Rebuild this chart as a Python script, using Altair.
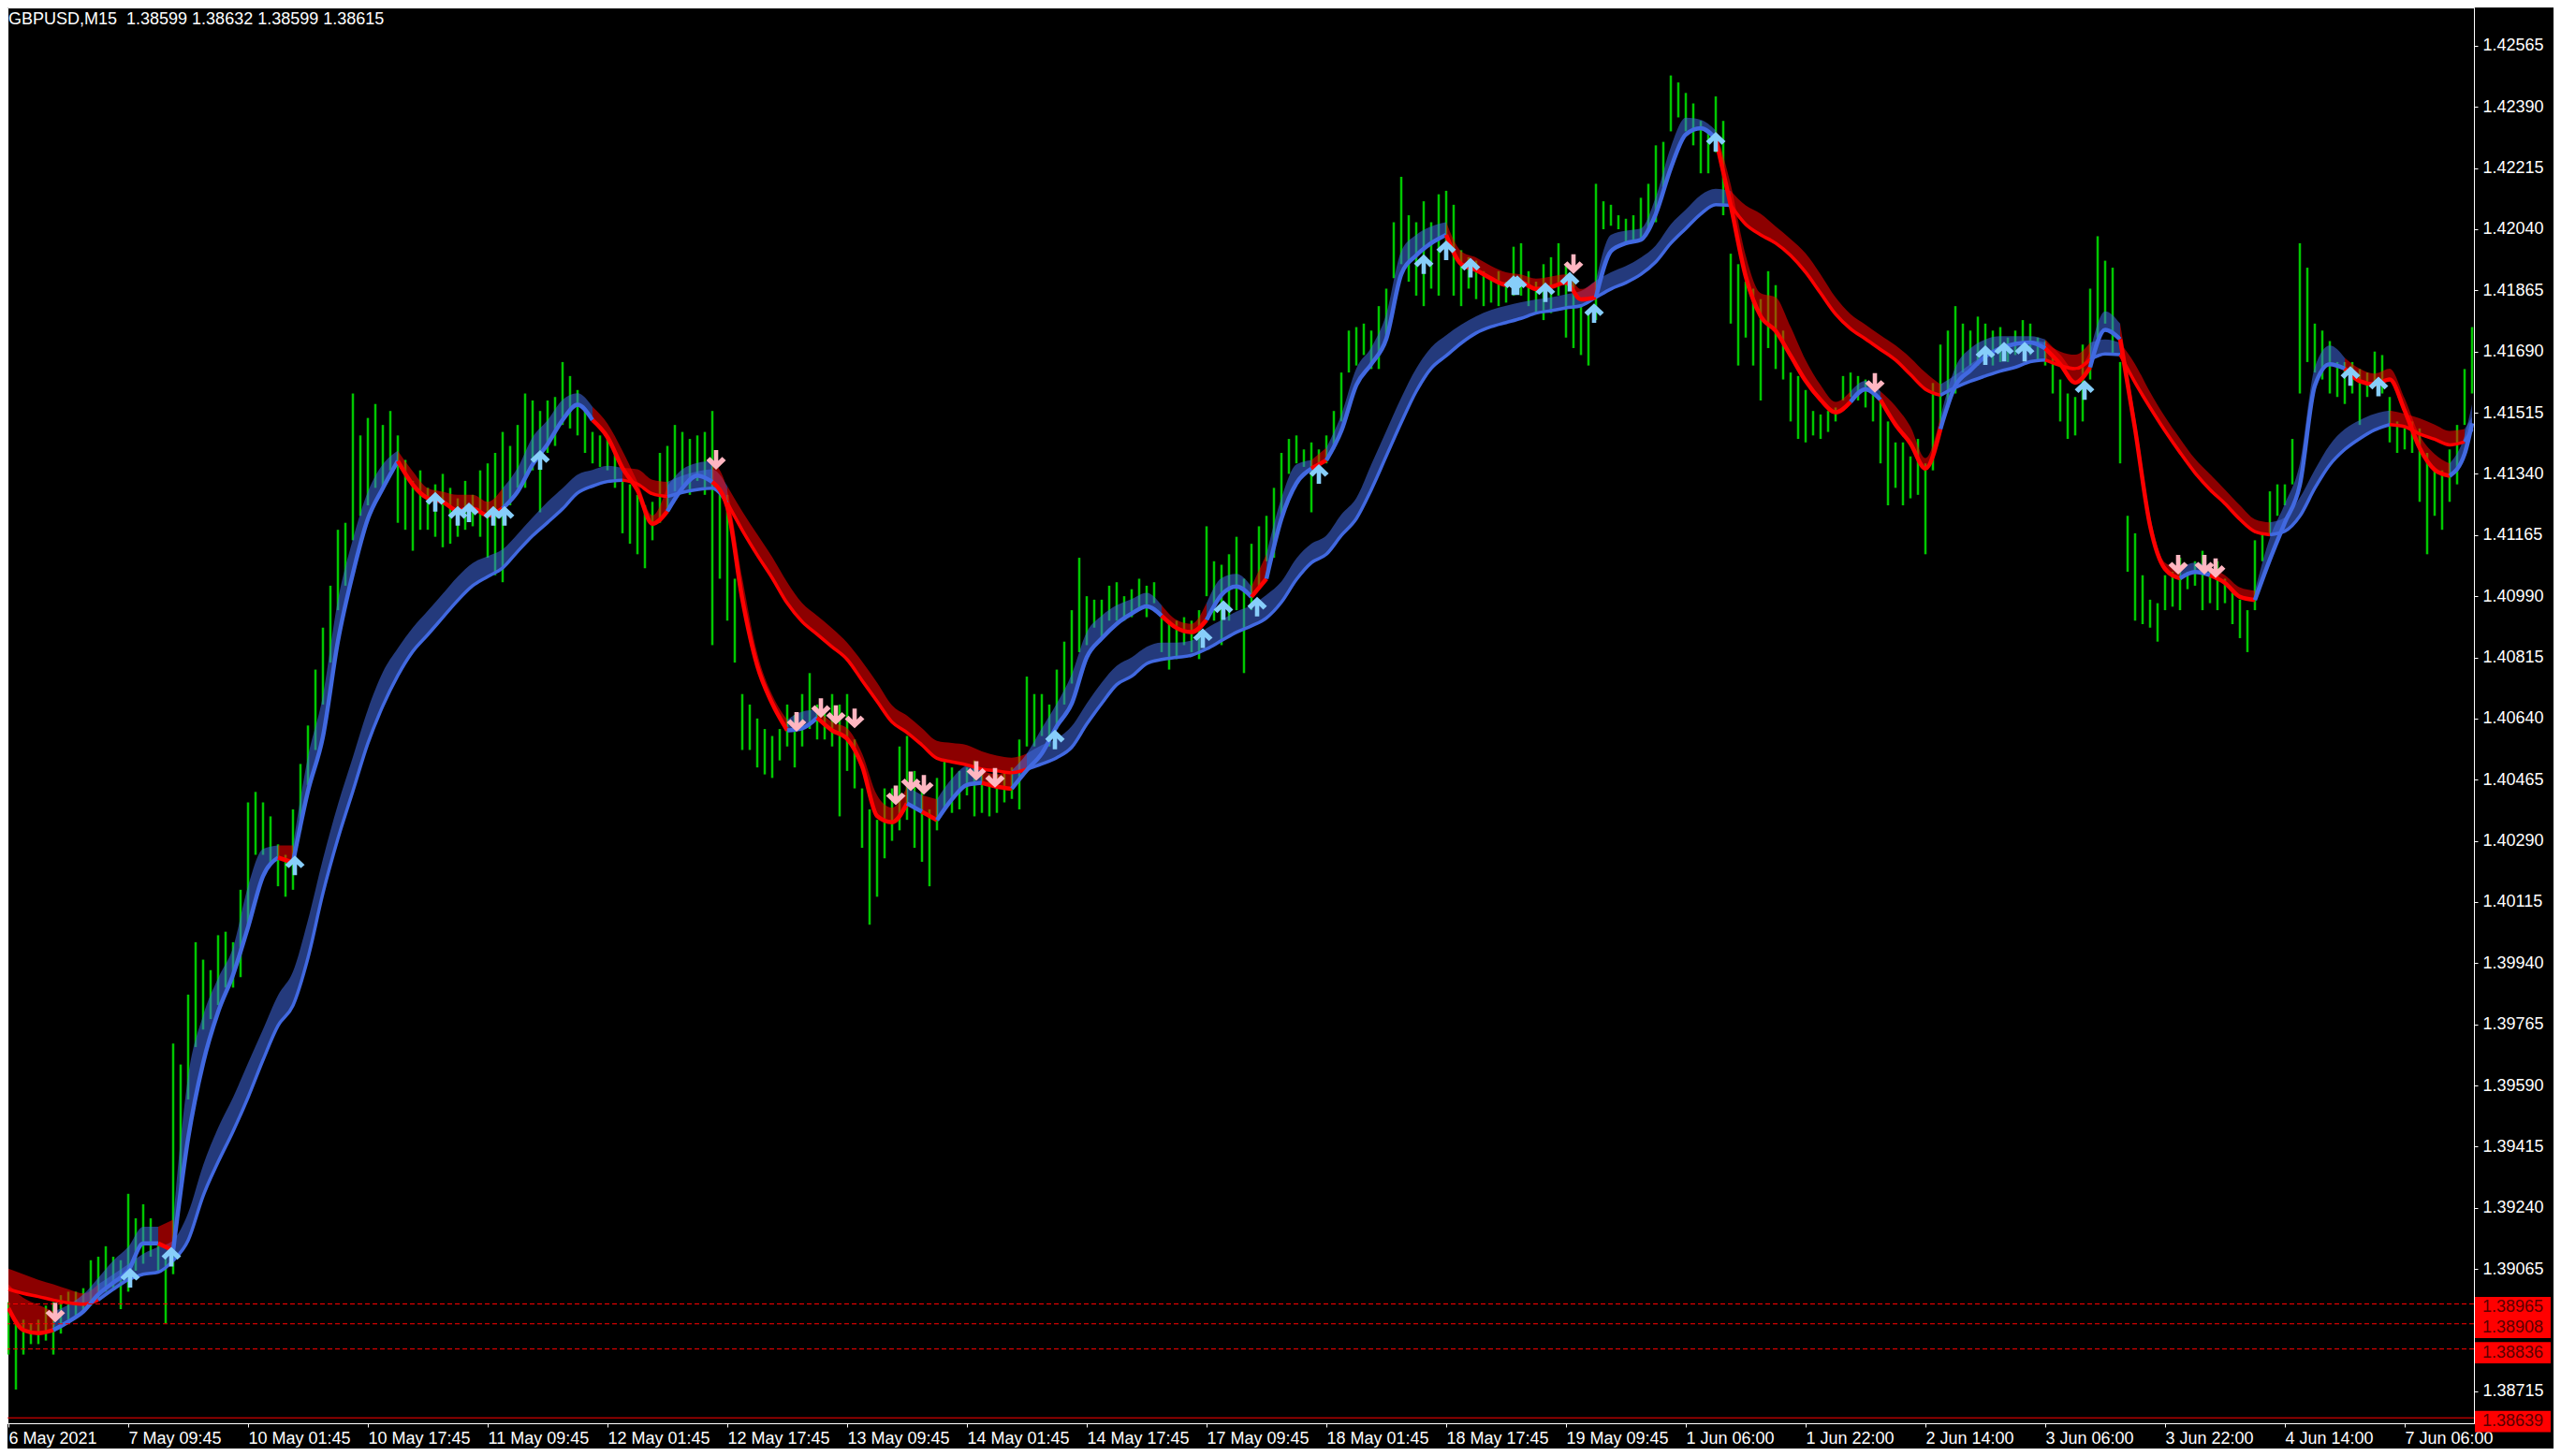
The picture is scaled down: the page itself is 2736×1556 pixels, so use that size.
import json
import altair as alt
import pandas as pd

# ---------------- data ----------------
TITLE = "GBPUSD,M15\u00a0\u00a01.38599 1.38632 1.38599 1.38615"
BASE = 1.38      # values below are pips above 1.38000
PIP = 0.0001

# price bars (high / low), sampled every 4 M15 bars
bar_idx = list(range(0, 1317, 4))
bar_hi = [
    97, 92, 92, 91, 92, 96, 97, 99, 100, 100,
    101, 109, 110, 113, 110, 109, 128, 121, 125, 121,
    114, 110, 171, 165, 185, 200, 195, 192, 202, 203,
    200, 215, 240, 243, 240, 236, 228, 225, 238, 251,
    262, 278, 290, 302, 318, 320, 357, 345, 350, 354,
    348, 352, 345, 338, 332, 335, 330, 331, 334, 330,
    327, 332, 328, 335, 337, 340, 346, 342, 348, 357,
    355, 352, 355, 356, 366, 362, 358, 352, 346, 345,
    344, 340, 332, 331, 328, 325, 326, 340, 342, 348,
    346, 344, 345, 346, 352, 330, 328, 304, 271, 268,
    264, 261, 259, 261, 268, 265, 271, 277, 268, 266,
    271, 268, 271, 258, 244, 238, 235, 244, 244, 256,
    259, 249, 244, 238, 247, 252, 250, 249, 250, 252,
    249, 248, 248, 249, 250, 258, 276, 271, 271, 268,
    278, 286, 295, 310, 299, 298, 298, 302, 303, 299,
    301, 304, 302, 303, 293, 292, 292, 293, 292, 295,
    319, 309, 308, 311, 316, 304, 314, 319, 322, 330,
    340, 344, 345, 341, 343, 341, 345, 352, 363, 375,
    376, 377, 375, 382, 387, 406, 419, 408, 406, 412,
    406, 414, 415, 411, 398, 396, 395, 392, 390, 392,
    389, 399, 400, 392, 389, 394, 396, 400, 394, 389,
    382, 380, 417, 412, 411, 408, 407, 408, 413, 417,
    428, 429, 448, 446, 443, 440, 435, 432, 442, 435,
    397, 394, 389, 387, 384, 392, 388, 375, 363, 362,
    358, 352, 351, 352, 353, 362, 363, 362, 361, 358,
    355, 349, 343, 343, 339, 344, 337, 360, 371, 375,
    382, 377, 375, 379, 377, 375, 376, 373, 375, 378,
    377, 373, 372, 368, 361, 357, 356, 371, 387, 402,
    395, 393, 366, 322, 317, 305, 298, 297, 305, 306,
    310, 306, 309, 312, 307, 309, 304, 300, 298, 295,
    315, 317, 329, 331, 331, 344, 400, 393, 377, 375,
    372, 366, 366, 366, 364, 363, 369, 368, 356, 349,
    347, 349, 347, 340, 335, 335, 341, 348, 364, 376,
]
bar_lo = [
    82, 72, 82, 85, 85, 86, 82, 88, 92, 93,
    94, 96, 98, 100, 101, 95, 100, 106, 108, 110,
    106, 91, 105, 130, 155, 170, 175, 178, 182, 187,
    187, 190, 205, 225, 225, 222, 216, 213, 215, 232,
    245, 255, 268, 280, 295, 302, 315, 322, 325, 330,
    330, 335, 320, 318, 312, 318, 318, 316, 313, 314,
    316, 318, 319, 316, 310, 305, 303, 325, 330, 330,
    335, 323, 340, 342, 348, 347, 345, 340, 337, 336,
    335, 330, 317, 314, 311, 307, 315, 320, 323, 329,
    330, 328, 332, 328, 285, 304, 292, 280, 255, 255,
    250, 248, 247, 252, 256, 250, 256, 261, 258, 258,
    256, 236, 249, 244, 227, 205, 213, 224, 229, 232,
    235, 227, 223, 216, 232, 238, 237, 238, 242, 236,
    237, 236, 237, 240, 241, 238, 256, 256, 259, 256,
    261, 268, 274, 283, 285, 290, 287, 292, 292, 292,
    293, 295, 293, 297, 283, 278, 281, 285, 283, 281,
    299, 292, 285, 292, 295, 277, 295, 302, 309, 310,
    322, 334, 337, 336, 323, 334, 337, 341, 349, 363,
    365, 368, 364, 364, 373, 390, 394, 389, 385, 382,
    387, 385, 396, 385, 382, 387, 384, 382, 383, 382,
    383, 385, 385, 382, 380, 378, 380, 385, 373, 370,
    368, 365, 378, 404, 405, 404, 400, 401, 401, 404,
    406, 416, 432, 436, 432, 428, 420, 420, 426, 408,
    377, 365, 373, 365, 355, 370, 364, 361, 349, 344,
    343, 345, 344, 346, 349, 355, 356, 355, 353, 349,
    337, 325, 330, 325, 327, 328, 311, 335, 348, 353,
    357, 363, 365, 365, 366, 365, 366, 366, 368, 369,
    368, 366, 365, 357, 349, 344, 345, 349, 361, 373,
    377, 368, 337, 306, 292, 291, 290, 286, 295, 296,
    295, 301, 302, 295, 297, 295, 297, 291, 287, 283,
    295, 309, 317, 322, 325, 331, 357, 366, 363, 361,
    357, 356, 354, 357, 348, 356, 359, 357, 343, 340,
    341, 340, 326, 311, 322, 318, 326, 331, 348, 357,
]

# moving-average bands, sampled every 8 bars
ma_idx = list(range(0, 1313, 8)) + [1316]
fast_lo = [
    95.3, 89.0, 88.1, 89.0, 91.4, 94.3, 99.2, 102.6, 106.0, 113.8,
    113.8, 111.8, 143.9, 165.4, 180.0, 190.7, 204.3, 218.9, 224.2, 222.8,
    243.2, 258.8, 286.1, 305.5, 321.1, 329.9, 337.7, 330.9, 327.0, 326.0,
    323.5, 324.1, 322.1, 324.1, 328.9, 336.7, 342.5, 349.4, 353.8, 349.4,
    344.5, 335.7, 329.3, 319.7, 323.3, 329.9, 333.5, 331.7, 324.5, 298.2,
    279.1, 268.3, 260.6, 261.2, 264.2, 260.6, 258.2, 250.4, 236.1, 234.3,
    239.7, 237.3, 234.9, 240.9, 245.0, 245.6, 244.5, 243.9, 249.2, 254.0,
    261.8, 268.3, 281.5, 286.9, 291.1, 294.0, 296.1, 293.4, 289.9, 288.7,
    292.2, 299.4, 301.8, 298.8, 304.0, 321.2, 331.3, 335.5, 337.9, 346.3,
    359.4, 365.4, 372.6, 391.1, 396.5, 400.0, 402.4, 394.0, 392.3, 389.9,
    388.1, 388.7, 386.9, 387.5, 388.7, 383.9, 384.5, 397.7, 400.0, 401.0,
    408.4, 421.5, 431.1, 432.9, 429.9, 410.8, 390.5, 379.1, 374.9, 367.8,
    360.6, 355.2, 351.6, 354.6, 358.2, 355.2, 348.1, 342.7, 335.5, 346.8,
    359.2, 363.6, 367.6, 369.9, 371.2, 371.6, 369.9, 365.4, 360.1, 364.5,
    375.2, 372.5, 346.8, 319.2, 306.8, 304.1, 305.9, 305.0, 302.8, 298.8,
    297.9, 309.5, 320.1, 330.8, 359.2, 365.4, 364.1, 360.5, 359.6, 361.0,
    352.1, 341.4, 335.2, 333.4, 339.7, 348.5,
]
fast_hi = [
    102.1, 98.2, 96.2, 94.3, 96.2, 99.2, 104.0, 108.9, 112.8, 118.6,
    118.6, 120.6, 161.5, 179.0, 189.7, 198.5, 216.0, 226.7, 227.7, 227.7,
    253.0, 270.5, 297.8, 315.3, 328.9, 336.7, 340.6, 334.7, 329.9, 328.9,
    328.0, 328.0, 326.0, 329.9, 335.7, 344.5, 349.4, 355.2, 357.1, 353.2,
    348.4, 340.6, 331.7, 322.1, 330.5, 335.3, 337.1, 337.7, 329.3, 304.2,
    282.7, 270.7, 263.6, 266.0, 266.6, 263.0, 261.2, 254.0, 242.1, 238.5,
    244.5, 242.1, 240.9, 246.8, 250.4, 249.2, 248.0, 249.2, 254.0, 261.2,
    268.3, 276.7, 288.7, 293.4, 296.4, 298.2, 300.0, 296.4, 292.2, 291.1,
    297.0, 304.2, 305.4, 301.8, 311.0, 327.1, 336.7, 337.9, 341.5, 351.0,
    364.2, 370.2, 379.7, 397.7, 402.4, 404.8, 406.0, 397.7, 395.9, 393.5,
    391.7, 391.1, 389.9, 390.5, 391.1, 386.9, 389.3, 402.4, 403.6, 404.2,
    413.2, 427.5, 435.9, 435.3, 432.3, 416.8, 396.5, 385.7, 384.5, 376.1,
    366.6, 359.4, 354.6, 357.6, 360.6, 357.6, 353.4, 347.5, 338.5, 350.3,
    364.5, 369.9, 372.5, 373.4, 373.4, 373.4, 372.5, 368.1, 363.6, 369.0,
    380.5, 377.0, 350.3, 321.9, 308.6, 306.8, 308.6, 307.2, 305.0, 301.5,
    300.6, 315.7, 325.5, 337.0, 364.5, 370.7, 367.2, 364.1, 362.7, 364.1,
    355.6, 345.0, 339.7, 337.0, 345.0, 353.9,
]
fast_runs = [("d", 3), ("u", 7), ("d", 1), ("u", 7), ("d", 1), ("u", 7), ("d", 7), ("u", 6),
             ("d", 5), ("u", 3), ("d", 5), ("u", 2), ("d", 6), ("u", 1), ("d", 1), ("u", 3),
             ("d", 2), ("u", 10), ("d", 3), ("u", 3), ("d", 1), ("u", 3), ("d", 1), ("u", 8),
             ("d", 10), ("u", 8), ("d", 9), ("u", 2), ("d", 4), ("u", 7), ("d", 3), ("u", 2),
             ("d", 4), ("u", 2), ("d", 3), ("u", 6), ("d", 7), ("u", 3)]
slow_lo = [
    100.7, 99.5, 98.6, 97.6, 96.8, 96.4, 97.6, 100.7, 103.4, 105.0,
    105.6, 108.9, 114.7, 127.4, 137.1, 145.9, 155.6, 166.3, 176.1, 181.9,
    195.5, 214.0, 229.6, 243.2, 256.9, 267.6, 276.3, 283.2, 288.0, 292.9,
    297.8, 302.0, 304.6, 307.1, 311.8, 316.3, 320.1, 324.0, 328.5, 330.5,
    331.8, 332.2, 331.1, 328.3, 327.5, 328.7, 329.5, 329.9, 325.7, 317.9,
    310.8, 304.2, 297.0, 291.7, 288.1, 284.5, 280.9, 274.9, 268.9, 263.0,
    260.0, 256.4, 252.6, 251.6, 250.7, 249.5, 249.0, 248.5, 249.5, 251.0,
    252.8, 255.8, 262.4, 268.3, 273.7, 276.1, 279.7, 280.9, 281.5, 282.1,
    283.9, 286.3, 288.7, 290.5, 292.8, 297.3, 303.8, 308.6, 311.0, 316.4,
    321.2, 329.5, 339.1, 348.7, 357.6, 364.2, 367.8, 371.4, 374.3, 376.1,
    377.3, 378.5, 380.0, 380.7, 381.5, 382.1, 384.5, 386.9, 388.7, 391.1,
    394.7, 400.0, 404.2, 408.4, 411.0, 410.8, 405.4, 402.4, 400.0, 396.5,
    391.7, 385.7, 379.7, 375.5, 372.6, 369.6, 366.6, 362.4, 358.2, 356.5,
    358.7, 360.5, 362.0, 363.4, 364.5, 366.1, 366.6, 365.0, 364.1, 366.7,
    368.3, 368.1, 360.1, 353.0, 346.3, 340.1, 334.3, 329.5, 325.5, 321.0,
    317.5, 316.6, 317.6, 321.9, 329.9, 336.6, 341.0, 344.1, 346.6, 348.1,
    347.5, 345.4, 343.9, 342.3, 343.2, 346.8,
]
slow_hi = [
    106.6, 105.0, 103.4, 102.1, 100.7, 99.5, 102.1, 105.0, 107.9, 110.8,
    112.8, 114.7, 122.5, 136.2, 146.9, 155.6, 165.4, 175.1, 184.8, 191.6,
    206.3, 223.8, 239.4, 253.0, 266.6, 277.3, 284.1, 290.0, 294.8, 299.7,
    304.6, 308.5, 310.4, 312.4, 316.8, 321.5, 326.0, 329.9, 333.8, 335.1,
    336.3, 335.7, 335.3, 332.3, 331.7, 333.5, 334.7, 335.3, 330.5, 323.3,
    316.7, 310.2, 303.0, 297.0, 293.4, 289.8, 285.7, 280.3, 274.3, 267.8,
    264.8, 261.2, 257.6, 257.0, 256.4, 254.6, 253.4, 252.8, 254.0, 256.4,
    258.2, 261.8, 268.3, 274.3, 279.1, 281.5, 284.5, 285.7, 285.7, 286.3,
    289.8, 292.2, 294.6, 296.4, 299.4, 303.2, 309.8, 314.0, 316.4, 322.4,
    327.1, 336.7, 346.3, 355.8, 364.2, 370.2, 373.7, 376.7, 379.1, 380.9,
    382.1, 383.1, 383.9, 384.5, 385.4, 386.3, 389.3, 391.7, 393.5, 395.9,
    399.4, 405.4, 409.6, 413.8, 415.6, 415.0, 410.8, 408.4, 404.8, 401.2,
    397.1, 391.1, 384.5, 379.7, 376.7, 373.7, 370.8, 367.2, 363.0, 359.6,
    362.3, 365.4, 368.1, 369.9, 371.2, 372.1, 371.6, 369.0, 368.1, 371.6,
    372.5, 371.6, 365.4, 357.4, 350.3, 344.1, 338.3, 333.9, 329.5, 325.0,
    321.0, 320.1, 321.5, 327.2, 335.2, 342.3, 346.8, 349.4, 351.2, 352.1,
    351.2, 349.9, 348.1, 346.3, 346.8, 350.3,
]
slow_runs = [("d", 6), ("u", 35), ("d", 3), ("u", 4), ("d", 20), ("u", 47), ("d", 14),
             ("u", 7), ("d", 3), ("u", 2), ("d", 10), ("u", 8), ("d", 5), ("u", 2)]

# signal arrows
up_idx = [65, 87, 153, 228, 240, 246, 259, 265, 284, 559, 638, 649, 667, 700, 756, 768,
          781, 804, 806, 821, 834, 847, 912, 1056, 1066, 1077, 1109, 1251, 1266]
up_pip = [104, 110, 222, 326, 322, 323, 322, 322, 338, 258, 287, 295, 296, 334, 394, 398,
          393, 388, 388, 386, 389, 380, 429, 368, 369, 369, 358, 362, 359]
dn_idx = [25, 378, 421, 434, 442, 452, 474, 482, 489, 517, 527, 836, 997, 1159, 1173, 1179]
dn_pip = [94, 338, 263, 267, 265, 264, 242, 246, 245, 249, 247, 394, 360, 308, 308, 307]

# axes
x_tick_idx = [0, 64, 128, 192, 256, 320, 384, 448, 512, 576, 640, 704, 768, 832, 896,
              960, 1024, 1088, 1152, 1216, 1280]
x_tick_labels = ["6 May 2021", "7 May 09:45", "10 May 01:45", "10 May 17:45", "11 May 09:45",
                 "12 May 01:45", "12 May 17:45", "13 May 09:45", "14 May 01:45", "14 May 17:45",
                 "17 May 09:45", "18 May 01:45", "18 May 17:45", "19 May 09:45", "1 Jun 06:00",
                 "1 Jun 22:00", "2 Jun 14:00", "3 Jun 06:00", "3 Jun 22:00", "4 Jun 14:00",
                 "7 Jun 06:00"]
y_tick_values = [1.42565, 1.42390, 1.42215, 1.42040, 1.41865, 1.41690, 1.41515, 1.41340,
                 1.41165, 1.40990, 1.40815, 1.40640, 1.40465, 1.40290, 1.40115, 1.39940,
                 1.39765, 1.39590, 1.39415, 1.39240, 1.39065, 1.38715]
dash_levels = [1.38965, 1.38908, 1.38836]
solid_level = 1.38639
level_labels = ["1.38965", "1.38908", "1.38836", "1.38639"]

# ---------------- chart ----------------
FONT = "Liberation Sans"
W, H = 2635, 1513

XS = alt.Scale(domain=[-0.5, 1317], nice=False, zero=False)
YS = alt.Scale(domain=[1.386235, 1.426745], nice=False, zero=False)
label_expr = json.dumps(x_tick_labels) + "[round(datum.value / 64)]"
XA = alt.Axis(values=x_tick_idx, labelExpr=label_expr, title=None, grid=False, orient="bottom",
              labelAlign="left", labelBaseline="top", labelPadding=3, tickSize=4,
              labelFont=FONT, labelFontSize=18, labelColor="white", tickColor="white",
              domainColor="white", labelOverlap=False, labelFlush=False, labelBound=False)
YA = alt.Axis(orient="right", values=y_tick_values, format=".5f", title=None, grid=False,
              tickSize=4, labelPadding=5, labelFont=FONT, labelFontSize=18,
              labelColor="white", tickColor="white", domainColor="white",
              labelOverlap=False, labelFlush=False, labelBound=False)


def X(f):
    return alt.X(f"{f}:Q", scale=XS, axis=XA)


def Y(f):
    return alt.Y(f"{f}:Q", scale=YS, axis=YA, stack=None)


TREND = alt.Color("trend:N", scale=alt.Scale(domain=["u", "d"], range=["#4169E1", "#FF0000"]),
                  legend=None)

bars = pd.DataFrame({
    "b": bar_idx,
    "hi": [BASE + v * PIP for v in bar_hi],
    "lo": [BASE + v * PIP for v in bar_lo],
})


def ma_frame(name, lo, hi, runs):
    trend = []
    for t, n in runs:
        trend += [t] * n
    trend = (trend + [trend[-1]] * len(ma_idx))[:len(ma_idx)]
    rows = []
    seg = 0
    for i, b in enumerate(ma_idx):
        if i > 0 and trend[i] != trend[i - 1]:
            rows.append({"b": b, "lo": BASE + lo[i] * PIP, "hi": BASE + hi[i] * PIP,
                         "trend": trend[i - 1], "seg": f"{name}{seg}"})
            seg += 1
        rows.append({"b": b, "lo": BASE + lo[i] * PIP, "hi": BASE + hi[i] * PIP,
                     "trend": trend[i], "seg": f"{name}{seg}"})
    return pd.DataFrame(rows)


fast = ma_frame("f", fast_lo, fast_hi, fast_runs)
slow = ma_frame("s", slow_lo, slow_hi, slow_runs)

price_rules = alt.Chart(bars).mark_rule(color="#00C800", strokeWidth=2.5, clip=True).encode(
    x=X("b"), y=Y("hi"), y2=alt.Y2("lo:Q"))


def band(df):
    return alt.Chart(df).mark_area(opacity=0.55, clip=True, orient="vertical",
                                   interpolate="monotone").encode(
        x=X("b"), y=Y("hi"), y2=alt.Y2("lo:Q"), color=TREND, detail="seg:N")


def line(df, w):
    return alt.Chart(df).mark_line(strokeWidth=w, clip=True, interpolate="monotone",
                                   strokeJoin="round").encode(
        x=X("b"), y=Y("lo"), color=TREND, detail="seg:N")


UP = "M0,-1 L1,-0.05 L0.62,0.3 L0.22,-0.1 L0.22,1 L-0.22,1 L-0.22,-0.1 L-0.62,0.3 L-1,-0.05 Z"
DN = "M0,1 L1,0.05 L0.62,-0.3 L0.22,0.1 L0.22,-1 L-0.22,-1 L-0.22,0.1 L-0.62,-0.3 L-1,0.05 Z"
ups = pd.DataFrame({"b": up_idx, "p": [BASE + v * PIP for v in up_pip]})
dns = pd.DataFrame({"b": dn_idx, "p": [BASE + v * PIP for v in dn_pip]})
up_layer = alt.Chart(ups).mark_point(shape=UP, filled=True, size=440, color="#87CEFA",
                                     opacity=1, clip=True).encode(x=X("b"), y=Y("p"))
dn_layer = alt.Chart(dns).mark_point(shape=DN, filled=True, size=440, color="#FFB6C1",
                                     opacity=1, clip=True).encode(x=X("b"), y=Y("p"))

dashed = alt.Chart(pd.DataFrame({"p": dash_levels})).mark_rule(
    color="#FF0000", strokeWidth=1, strokeDash=[5, 3]).encode(y=Y("p"))
solid = alt.Chart(pd.DataFrame({"p": [solid_level]})).mark_rule(
    color="#FF0000", strokeWidth=1).encode(y=Y("p"))

title = alt.Chart(pd.DataFrame({"t": [TITLE]})).mark_text(
    align="left", baseline="alphabetic", font=FONT, fontSize=18, color="white").encode(
    x=alt.value(1), y=alt.value(18), text="t:N")

levels = pd.DataFrame({"p": dash_levels + [solid_level], "t": level_labels})
BOX = "M-1,-0.28 L1,-0.28 L1,0.28 L-1,0.28 Z"
boxes = alt.Chart(levels).mark_point(shape=BOX, filled=True, size=6561, color="#FF0000",
                                     opacity=1, strokeWidth=0, yOffset=4).encode(
    x=alt.value(W + 41.5), y=Y("p"))
box_text = alt.Chart(levels).mark_text(align="left", baseline="middle", font=FONT,
                                       fontSize=18, color="#5a0000", yOffset=4).encode(
    x=alt.value(W + 9), y=Y("p"), text="t:N")

chart = alt.layer(
    price_rules, band(slow), band(fast), line(slow, 3.5), line(fast, 4.5),
    dashed, solid, up_layer, dn_layer, title, boxes, box_text,
).properties(
    width=W, height=H,
    autosize=alt.AutoSizeParams(type="none"),
    padding={"left": 0, "top": 0, "right": 85, "bottom": 27},
).configure(background="black").configure_view(stroke="white", strokeWidth=1)

chart.save("out.html", embed_options={"renderer": "svg", "actions": False})
